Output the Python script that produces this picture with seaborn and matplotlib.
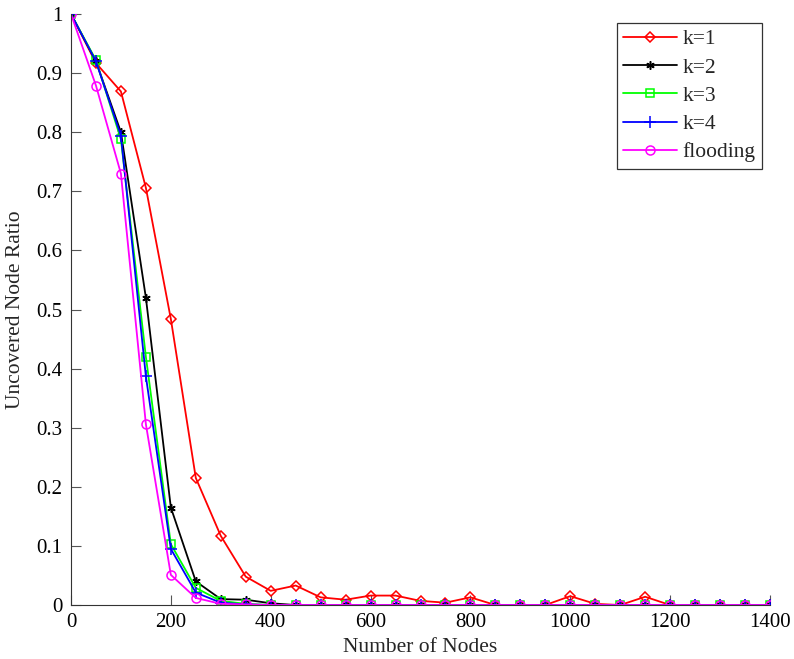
import matplotlib
matplotlib.use("Agg")
import matplotlib.pyplot as plt
import seaborn as sns
import numpy as np

# number of nodes (x axis)
nodes = [0, 50, 100, 150, 200, 250, 300, 350, 400, 450, 500, 550, 600, 650, 700,
         750, 800, 850, 900, 950, 1000, 1050, 1100, 1150, 1200, 1250, 1300, 1350, 1400]

# uncovered node ratio for each scheme
k1 = [1.0, 0.917, 0.869, 0.706, 0.484, 0.215, 0.117, 0.048, 0.024, 0.033, 0.013, 0.009,
      0.016, 0.016, 0.007, 0.004, 0.013, 0.0, 0.0, 0.0, 0.015, 0.002, 0.0, 0.014, 0.0,
      0.0, 0.0, 0.0, 0.0]
k2 = [1.0, 0.92, 0.80, 0.52, 0.165, 0.040, 0.010, 0.009, 0.003, 0.0, 0.0, 0.0, 0.0, 0.0,
      0.0, 0.0, 0.0, 0.0, 0.0, 0.0, 0.0, 0.0, 0.0, 0.0, 0.0, 0.0, 0.0, 0.0, 0.0]
k3 = [1.0, 0.922, 0.788, 0.42, 0.103, 0.029, 0.007, 0.002, 0.0, 0.0, 0.0, 0.0, 0.0, 0.0,
      0.0, 0.0, 0.0, 0.0, 0.0, 0.0, 0.0, 0.0, 0.0, 0.0, 0.0, 0.0, 0.0, 0.0, 0.0]
k4 = [1.0, 0.92, 0.794, 0.387, 0.095, 0.021, 0.004, 0.001, 0.0, 0.0, 0.0, 0.0, 0.0, 0.0,
      0.0, 0.0, 0.0, 0.0, 0.0, 0.0, 0.0, 0.0, 0.0, 0.0, 0.0, 0.0, 0.0, 0.0, 0.0]
flooding = [1.0, 0.879, 0.73, 0.306, 0.051, 0.012, 0.002, 0.001, 0.0, 0.0, 0.0, 0.0, 0.0,
            0.0, 0.0, 0.0, 0.0, 0.0, 0.0, 0.0, 0.0, 0.0, 0.0, 0.0, 0.0, 0.0, 0.0, 0.0, 0.0]

sns.set_style("white")
plt.rcParams['font.family'] = ['Liberation Serif', 'DejaVu Serif']

fig = plt.figure(figsize=(7.94, 6.59), dpi=100)
ax = fig.add_axes([0.0894, 0.0819, 0.8804, 0.8968])

asterisk = (6, 2, 0)
series = [
    (k1, "k=1", "#ff0000", "D", 5),
    (k2, "k=2", "#000000", asterisk, 6),
    (k3, "k=3", "#00ff00", "s", 5.5),
    (k4, "k=4", "#0000ff", "+", 8),
    (flooding, "flooding", "#ff00ff", "o", 6.5),
]

for vals, name, col, mk, ms in series:
    sns.lineplot(x=nodes, y=vals, ax=ax, color=col, marker=mk, markersize=ms,
                 markerfacecolor="none", markeredgecolor=col, markeredgewidth=1.1,
                 linewidth=1.3, label=name)

ax.set_xlim(0, 1400)
ax.set_ylim(0, 1)
ax.set_xticks(np.arange(0, 1401, 200))
ax.set_yticks(np.arange(0, 1.01, 0.1))
ax.set_yticklabels(["0", "0.1", "0.2", "0.3", "0.4", "0.5", "0.6", "0.7", "0.8", "0.9", "1"])
ax.tick_params(direction="in", length=7, width=0.8, labelsize=15, color="#555555",
               labelcolor="black", top=False, right=False, bottom=True, left=True, pad=6)

for side in ["top", "right"]:
    ax.spines[side].set_visible(False)
for side in ["left", "bottom"]:
    ax.spines[side].set_color("#333333")
    ax.spines[side].set_linewidth(0.8)

ax.set_xlabel("Number of Nodes", fontsize=15.5, labelpad=4)
ax.set_ylabel("Uncovered Node Ratio", fontsize=15.5, labelpad=8)

leg = ax.legend(loc="upper right", bbox_to_anchor=(0.9885, 0.985), fontsize=15.5,
                frameon=True, fancybox=False, edgecolor="#333333", framealpha=1,
                handlelength=2.5, handletextpad=0.25, borderpad=0.3, labelspacing=0.38,
                borderaxespad=0)
leg.get_frame().set_linewidth(0.9)

fig.savefig("out.png", dpi=100)
